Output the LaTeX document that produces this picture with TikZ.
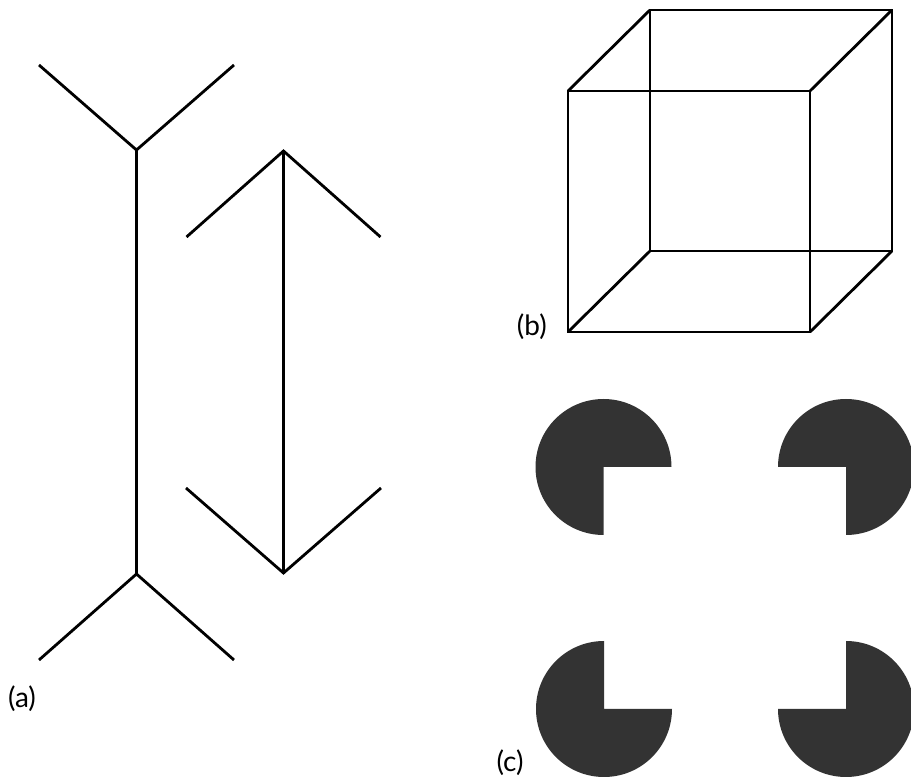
\documentclass[tikz,border=0pt]{standalone}
\usepackage{fontspec}
\setmainfont{Lato}
\usetikzlibrary{positioning}

\begin{document}
\begin{tikzpicture}[
  x=1pt, y=1pt,
  figline/.style = {draw=black, line width=2.8pt, line join=miter},
  pacman/.style  = {fill=black!80, draw=none},
  caption/.style = {font=\fontsize{28}{32}\selectfont, inner sep=0pt},
]
\useasboundingbox (0,0) rectangle (911,779);

% ===== (a) Mueller-Lyer: outward fins (left) =====
\coordinate (finTop)   at (136.5,629);
\coordinate (finBot)   at (136.5,205);
\coordinate (finTopL)  at (39,714);
\coordinate (finTopR)  at (234,714);
\coordinate (finBotL)  at (39,119);
\coordinate (finBotR)  at (234,119);
\draw[figline] (finTop) -- (finBot);
\draw[figline] (finTopL) -- (finTop) -- (finTopR);
\draw[figline] (finBotL) -- (finBot) -- (finBotR);

% ===== (a) Mueller-Lyer: inward arrowheads (right) =====
\coordinate (arrTop)   at (283.5,628);
\coordinate (arrBot)   at (283.5,206);
\coordinate (arrTopL)  at (186.5,542);
\coordinate (arrTopR)  at (380.5,542);
\coordinate (arrBotL)  at (186,291);
\coordinate (arrBotR)  at (381,291);
\draw[figline] (arrTop) -- (arrBot);
\draw[figline] (arrTopL) -- (arrTop) -- (arrTopR);
\draw[figline] (arrBotL) -- (arrBot) -- (arrBotR);

\node[caption] (capA) at (22,80) {(a)};

% ===== (b) Necker cube =====
\coordinate (frontSW) at (568,447);
\coordinate (frontSE) at (810,447);
\coordinate (frontNE) at (810,688);
\coordinate (frontNW) at (568,688);
\coordinate (backSW)  at (650,528);
\coordinate (backSE)  at (892,528);
\coordinate (backNE)  at (892,769);
\coordinate (backNW)  at (650,769);
\draw[figline] (frontSW) -- (frontSE) -- (frontNE) -- (frontNW) -- cycle;
\draw[figline] (backSW) -- (backSE) -- (backNE) -- (backNW) -- cycle;
\foreach \c in {SW,SE,NE,NW} {
  \draw[figline] (front\c) -- (back\c);
}

\node[caption, left=21pt of frontSW, yshift=5pt] (capB) {(b)};

% ===== (c) Kanizsa square: four pac-men =====
\foreach \name/\cx/\cy/\from in {pacTL/603.5/312/0, pacTR/846/312/270,
                                 pacBL/604/70/90, pacBR/846/70/180} {
  \coordinate (\name) at (\cx,\cy);
  \fill[pacman] (\name) -- ++(\from:68pt)
        arc[start angle=\from, delta angle=270, radius=68pt] -- cycle;
}

\node[caption] (capC) at (510,16) {(c)};

\end{tikzpicture}
\end{document}
